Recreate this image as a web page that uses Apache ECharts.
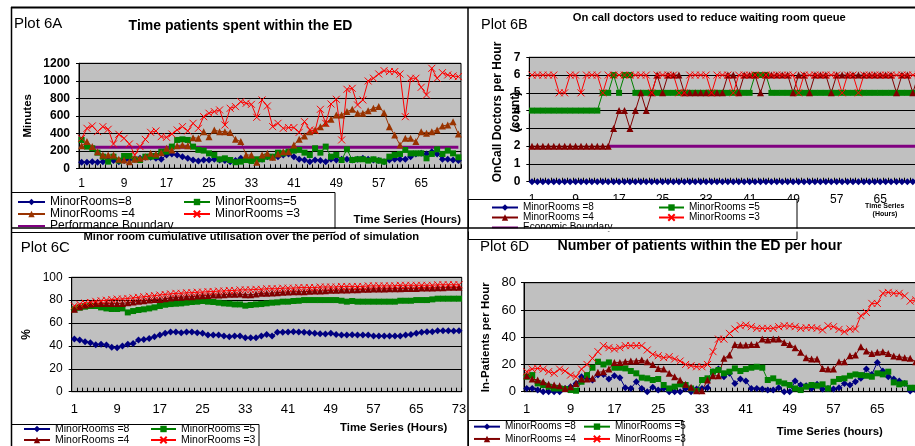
<!DOCTYPE html>
<html><head><meta charset="utf-8">
<script src="https://cdn.jsdelivr.net/npm/echarts@6/dist/echarts.min.js"></script>
<style>html,body{margin:0;padding:0;background:#fff}#c{width:915px;height:446px}</style>
</head><body><div id="c"></div><script>
// ---------- DATA ----------
const hours72 = [1,2,3,4,5,6,7,8,9,10,11,12,13,14,15,16,17,18,19,20,21,22,23,24,25,26,27,28,29,30,31,32,33,34,35,36,37,38,39,40,41,42,43,44,45,46,47,48,49,50,51,52,53,54,55,56,57,58,59,60,61,62,63,64,65,66,67,68,69,70,71,72];
const hours73 = [1,2,3,4,5,6,7,8,9,10,11,12,13,14,15,16,17,18,19,20,21,22,23,24,25,26,27,28,29,30,31,32,33,34,35,36,37,38,39,40,41,42,43,44,45,46,47,48,49,50,51,52,53,54,55,56,57,58,59,60,61,62,63,64,65,66,67,68,69,70,71,72,73];

// Plot 6A - minutes in ED
const a8 = [69,69,76,69,76,95,88,76,88,103,103,114,126,126,114,103,152,164,152,133,114,95,84,95,95,103,95,88,76,88,114,103,95,88,103,133,126,133,152,164,133,103,95,76,95,88,76,103,95,103,103,95,103,114,103,95,88,76,95,103,103,103,133,164,171,164,190,164,103,103,95,88];
const a5 = [324,248,229,179,133,76,133,88,141,141,103,95,133,133,141,190,190,248,324,331,324,248,210,202,171,152,103,114,95,69,76,95,84,103,103,133,133,179,171,190,202,210,179,152,229,179,248,133,152,95,217,95,103,103,88,103,88,76,133,152,164,210,171,171,171,114,164,217,164,202,171,126];
const a4 = [259,305,248,190,152,152,152,103,95,76,103,114,133,171,164,179,229,210,259,267,259,350,343,419,362,438,419,419,408,331,305,152,152,69,152,171,126,164,190,190,267,331,370,419,438,476,514,560,610,610,648,674,629,629,659,686,705,636,476,381,267,343,343,305,419,400,419,438,484,495,533,392];
const a3 = [343,457,484,419,476,446,278,389,343,278,152,248,331,411,427,362,354,392,438,476,427,514,457,590,629,648,667,495,686,705,762,743,731,583,781,712,476,514,457,465,465,411,533,438,430,674,514,735,789,324,903,914,724,781,998,1029,1078,1116,1105,1105,1078,590,1029,1029,926,838,1143,1029,1093,1067,1055,1048];
const aBoundary = [240,240,240,240,240,240,240,240,240,240,240,240,240,240,240,240,240,240,240,240,240,240,240,240,240,240,240,240,240,240,240,240,240,240,240,240,240,240,240,240,240,240,240,240,240,240,240,240,240,240,240,240,240,240,240,240,240,240,240,240,240,240,240,240,240,240,240,240,240,240,240,240];
const aTicks = [0,200,400,600,800,1000,1200];

// Plot 6B - on call doctors
const b8 = [0,0,0,0,0,0,0,0,0,0,0,0,0,0,0,0,0,0,0,0,0,0,0,0,0,0,0,0,0,0,0,0,0,0,0,0,0,0,0,0,0,0,0,0,0,0,0,0,0,0,0,0,0,0,0,0,0,0,0,0,0,0,0,0,0,0,0,0,0,0,0,0];
const b5 = [4,4,4,4,4,4,4,4,4,4, 4,4,4,5,5,6,5,6,6,5, 5,5,5,5,5,5,5,5,5,5, 5,5,5,5,5,5,5,5,5,5, 5,6,6,6,5,5,5,5,5,5, 5,5,5,5,5,5,5,5,5,5, 5,5,5,5,5,5,5,5,5,5, 5,5];
const b4 = [2,2,2,2,2,2,2,2,2,2, 2,2,2,2,2,3,4,4,3,4, 5,4,5,6,5,6,6,6,5,5, 5,5,5,5,5,5,6,6,5,6, 6,6,5,6,6,6,6,6,5,6, 6,5,6,6,6,5,6,6,6,6, 6,6,6,6,6,6,6,5,6,6, 5,6];
const b3 = [6,6,6,6,6,5,5,6,6,5, 6,6,6,5,6,6,6,6,6,6, 6,6,5,6,6,6,6,5,5,6, 6,6,6,5,6,6,6,5,6,6, 6,6,6,6,6,6,6,6,6,5, 6,6,6,6,6,6,6,5,6,6, 5,6,6,6,6,6,6,6,6,6, 6,6];
const bBoundary = [null,null,null,null,null,null,null,null,null,null,null,null,null,null,2,2,2,2,2,2,2,2,2,2,2,2,2,2,2,2,2,2,2,2,2,2,2,2,2,2,2,2,2,2,2,2,2,2,2,2,2,2,2,2,2,2,2,2,2,2,2,2,2,2,2,2,2,2,2,2,2,2];

// Plot 6C - cumulative utilisation %
const c8 = [46,45.2,43.7,42.8,41.1,41.4,40.8,38.8,38.5,39.9,41.4,42.2,45.2,45.7,46.6,48.1,49.5,51.0,52.2,52.2,51.6,52.2,52.2,51.6,51.0,49.5,49.5,49.5,48.7,48.1,48.7,48.7,47.2,47.2,47.2,48.7,50.1,48.7,51.9,51.9,52.2,52.4,52.2,51.9,51.6,51.0,50.7,50.4,51.0,50.1,49.5,49.5,49.8,49.5,49.5,49.5,48.7,48.7,48.7,48.7,48.7,48.7,49.5,50.1,51.0,51.9,52.4,52.4,53.3,53.3,53.3,53.0,53.3];
const c5 = [72,73.4,74.3,74.9,74.9,73.7,72.8,72.3,72.3,72.8,69.3,70.5,71.4,72.0,72.8,73.7,74.9,76.0,76.6,76.9,77.2,77.8,78.4,78.7,79.3,78.7,78.4,77.8,77.2,76.9,76.3,76.3,75.2,75.8,76.3,76.6,77.2,77.8,78.1,78.7,78.7,79.3,79.5,80.1,80.1,80.1,80.1,80.1,80.1,80.1,79.5,78.7,79.3,78.7,78.7,78.7,78.7,78.7,78.7,78.7,78.7,79.5,79.5,79.5,80.1,80.1,80.1,80.7,81.3,81.3,81.3,81.3,81.3];
const c4 = [72,74.3,75.8,76.6,77.2,77.2,77.2,77.2,77.2,77.2,77.8,78.4,79.0,79.5,80.1,80.7,80.7,81.3,81.9,82.5,82.5,83.0,83.0,83.6,83.9,84.2,84.5,84.5,84.8,85.1,85.1,85.4,84.8,84.8,85.4,86.0,86.0,86.3,86.6,86.9,87.2,87.4,87.4,87.4,87.7,88.0,88.0,88.3,88.6,88.6,88.9,88.9,89.2,89.2,89.5,89.5,89.8,89.8,89.8,90.0,90.0,90.0,90.3,90.3,90.3,90.6,90.6,90.6,90.9,90.9,91.2,91.2,91.2];
const c3 = [75,76.5,77.5,78,79,79.5,80,80.5,81,81,81.5,82,82.5,83,83.5,84,84.5,85,85.5,86,86,86.5,86.5,87,87,87.5,87.5,88,88,88.5,88.5,89,89,89,89.5,89.5,90,90,90,90.5,90.5,90.5,91,91,91,91,91.5,91.5,91.5,91.5,92,92,92,92,92,92.5,92.5,92.5,92.5,92.5,92.5,93,93,93,93,93,93,93,93.5,93.5,93.5,93.5,93.5];

// Plot 6D - patients in ED per hour
const d8 = [2.4,2.4,1.2,0,0,0,0,2.4,3.7,6.1,11,9.8,8.6,12.2,12.7,9.3,11.7,10.3,2.9,2.4,7.3,2.4,0,3.2,1.2,2.4,0,0,0,2.4,0,2,2.4,2.9,14.7,16.6,11,13.5,6.1,9.3,7.8,2.4,2.4,2,1.2,1.2,2.9,0,0,7.8,4.9,4.4,2.4,5.4,2,2.4,2,2.9,6.1,4.9,7.3,9.8,16.6,12.7,21.5,15.2,11,9.3,7.8,6.1,0.5,1.2];
const d5 = [11,12.2,6.1,4.9,3.7,2.4,2.4,2,1.2,0.7,7.3,12.2,17.6,22,20,21.5,17.6,17.6,17.1,15.2,13.5,10.3,9.8,8.6,9.3,4.9,2.4,3.7,5.4,4.9,2.4,0.5,8.6,9.8,14.7,15.9,13.5,14.7,17.1,15.2,16.6,17.6,18.3,17.6,8.6,9.8,7.3,6.1,4.9,2.4,1.2,3.7,4.9,4.4,5.4,2.4,7.3,9.3,9.8,11.7,12.7,12.2,11.7,11,13.5,12.7,14.7,6.8,5.4,6.1,2.9,2.9];
const d4 = [11.7,9.3,8.6,7.3,5.4,4.9,4.4,2.4,3.7,6.1,9.3,9.3,9.8,14.2,14.7,16.6,21.5,21.5,22,22.5,22.5,23.2,22,20,17.1,16.6,13.5,11,8.6,5.4,3.2,0.7,0.7,8.6,11.7,11.7,24.5,26.9,34.7,34.2,34.2,34.7,34.7,38.6,37.9,38.6,38.6,36.2,34.7,32.3,28.9,25,24,24,17.1,16.6,16.6,22,22,26.4,26.9,33,29.8,28.1,28.9,29.4,28.1,26.2,25.7,25,24.5,22];
const d3 = [14.7,16.6,17.1,16.6,14.7,13.5,16.6,15.2,12.2,11,16.6,20,24.5,29.4,33.8,32.3,31.3,32.3,33.8,33.8,33.8,33.8,30.6,27.4,26.4,25,25.7,24,22.5,20,19.1,18.3,18.3,20,29.4,38.6,38.6,42.8,46,48.4,48.9,47.7,46.5,46.5,46.5,46.5,47.7,48.4,48.2,47.7,46.5,47,47,46.5,45.3,48.4,47.7,45.7,44,46,46,55.8,58.2,64.8,64.8,72.2,72.9,72.2,72.2,70.4,66.5,67.3];

const legendText = {
  a8:'MinorRooms=8', a5:'MinorRooms=5', a4:'MinorRooms =4', a3:'MinorRooms =3', apb:'Performance Boundary',
  b8:'MinorRooms =8', b5:'MinorRooms =5', b4:'MinorRooms =4', b3:'MinorRooms =3', bpb:'Economic Boundary',
  c8:'MinorRooms =8', c5:'MinorRooms =5', c4:'MinorRooms =4', c3:'MinorRooms =3',
  d8:'MinorRooms =8', d5:'MinorRooms =5', d4:'MinorRooms =4', d3:'MinorRooms =3'
};

// ---------- STYLE ----------
const FONT = '"Liberation Sans", Arial, Helvetica, sans-serif';
const NAVY='#000080', GREEN='#008000', MAROON='#800000', BROWN='#993300', RED='#FF0000', PURPLE='#800080';
const XSYM = 'path://M0,0L10,10M10,0L0,10';

function gridBox(left, top, width, height){
  return {left, top, width, height, show:true, backgroundColor:'#C0C0C0', borderColor:'#000', borderWidth:1, containLabel:false, outerBoundsMode:'none'};
}
function xCat(gridIndex, data, fontSize, margin){
  return {type:'category', gridIndex, data, boundaryGap:true,
    axisLine:{show:true, onZero:false, lineStyle:{color:'#000', width:1}},
    axisTick:{show:true, inside:true, length:4, interval:0, alignWithLabel:false, lineStyle:{color:'#000', width:1}},
    axisLabel:{show:true, interval:7, color:'#000', fontFamily:FONT, fontSize, margin},
    splitLine:{show:false}};
}
function yVal(gridIndex, max, interval, fontSize, fontWeight, margin, name, nameGap, nameSize){
  return {type:'value', gridIndex, min:0, max, interval,
    axisLine:{show:true, lineStyle:{color:'#000', width:1}},
    axisTick:{show:true, inside:false, length:3, lineStyle:{color:'#000'}},
    axisLabel:{show:true, color:'#000', fontFamily:FONT, fontSize, fontWeight, margin, formatter: v => String(v)},
    splitLine:{show:true, lineStyle:{color:'#000', width:1}},
    name: name || '', nameLocation:'middle', nameGap: nameGap || 0, nameRotate:90,
    nameTextStyle:{color:'#000', fontFamily:FONT, fontSize:nameSize || 12, fontWeight:'bold'}};
}
function line(name, data, ax, symbol, color, size, extra){
  return Object.assign({
    name, type:'line', data, xAxisIndex:ax, yAxisIndex:ax,
    symbol, symbolSize:size, showSymbol:true, showAllSymbol:true,
    clip:false, animation:false, silent:true, connectNulls:false,
    lineStyle:{color, width:1}, itemStyle:{color}, emphasis:{disabled:true}
  }, extra || {});
}
function crossLine(name, data, ax, size){
  return line(name, data, ax, XSYM, RED, size, {itemStyle:{color:RED, borderColor:RED, borderWidth:1}});
}
function boundary(name, data, ax){
  return line(name, data, ax, 'circle', PURPLE, 4, {showSymbol:false, lineStyle:{color:PURPLE, width:3}, itemStyle:{color:PURPLE, opacity:0}});
}
function leg(names, left, top, fontSize, lineHeight, itemWidth){
  return {show:true, orient:'vertical', left, top, padding:0, itemGap:0, itemWidth, itemHeight:8,
    data:names, selectedMode:false, z:6, backgroundColor:'transparent', borderWidth:0,
    formatter: n => legendText[n],
    textStyle:{fontFamily:FONT, fontSize, color:'#000', lineHeight}};
}
function txt(text, x, y, size, weight, align, extra){
  return Object.assign({type:'text', x, y, z:9, silent:true,
    style:{text, fill:'#000', fontSize:size, fontWeight:weight, fontFamily:FONT,
      align, verticalAlign:'middle', textAlign:align, textVerticalAlign:'middle'}}, extra || {});
}
function hline(x1, x2, y, w){ return {type:'line', z:8, silent:true, shape:{x1, y1:y, x2, y2:y}, style:{stroke:'#000', lineWidth:w}}; }
function vline(x, y1, y2, w){ return {type:'line', z:8, silent:true, shape:{x1:x, y1, x2:x, y2}, style:{stroke:'#000', lineWidth:w}}; }
function box(x, y, w, h){ return {type:'rect', z:5, silent:true, shape:{x, y, width:w, height:h}, style:{fill:'#fff', stroke:'#000', lineWidth:1}}; }

const option = {
  backgroundColor:'#fff',
  animation:false,
  grid:[
    gridBox(79, 63.3, 382, 105),
    gridBox(529.3, 57.3, 391.7, 124.4),
    gridBox(71.7, 277.3, 390, 114.4),
    gridBox(524, 282.7, 394.4, 109)
  ],
  xAxis:[
    xCat(0, hours72, 12, 9),
    xCat(1, hours72, 12, 12),
    xCat(2, hours73, 13, 11),
    xCat(3, hours72, 13, 11)
  ],
  yAxis:[
    yVal(0, aTicks[aTicks.length-1], 200, 12, 'bold', 9, 'Minutes', 45, 11.5),
    yVal(1, 7, 1, 12, 'bold', 9, '', 0, 12),
    yVal(2, 100, 20, 12, 'normal', 9, '%', 39, 12),
    yVal(3, 80, 20, 13, 'normal', 8, 'In-Patients per Hour', 32, 11.5)
  ],
  legend:[
    leg(['a8','a4','apb'], 17, 196, 12, 10, 27),
    leg(['a5','a3'], 183, 196, 12, 10, 26),
    leg(['b8','b4','bpb'], 491, 202.5, 10, 9.2, 26),
    leg(['b5','b3'], 658, 202.5, 10, 9.2, 25),
    leg(['c8','c4'], 23, 423.5, 10.5, 11, 26),
    leg(['c5','c3'], 150, 423.5, 10.5, 11, 25),
    leg(['d8','d4'], 473, 420.5, 10, 12.3, 26),
    leg(['d5','d3'], 583, 420.5, 10, 12.3, 26)
  ],
  series:[
    line('a8', a8, 0, 'diamond', NAVY, 7),
    line('a5', a5, 0, 'rect', GREEN, 6),
    line('a4', a4, 0, 'triangle', BROWN, 7),
    crossLine('a3', a3, 0, 7),
    boundary('apb', aBoundary, 0),

    boundary('bpb', bBoundary, 1),
    line('b8', b8, 1, 'diamond', NAVY, 7),
    line('b5', b5, 1, 'rect', GREEN, 6),
    line('b4', b4, 1, 'triangle', MAROON, 7),
    crossLine('b3', b3, 1, 7),

    line('c8', c8, 2, 'diamond', NAVY, 7),
    line('c5', c5, 2, 'rect', GREEN, 6),
    line('c4', c4, 2, 'triangle', MAROON, 7),
    crossLine('c3', c3, 2, 7),

    line('d8', d8, 3, 'diamond', NAVY, 7),
    line('d5', d5, 3, 'rect', GREEN, 6),
    line('d4', d4, 3, 'triangle', MAROON, 7),
    crossLine('d3', d3, 3, 7)
  ],
  graphic:{elements:[
    // legend boxes
    box(11.5, 192.5, 323.5, 40),
    box(468.5, 199.5, 328.5, 40),
    box(11.5, 424.5, 247.5, 30),
    box(468.5, 420.5, 214.5, 30),
    // clip strip under top panels
    {type:'rect', z:7, silent:true, shape:{x:12, y:228.5, width:903, height:3}, style:{fill:'#fff'}},
    // frame
    hline(11, 915, 7.5, 2),
    vline(11.5, 7, 446, 1.5),
    vline(468, 7, 446, 1.5),
    hline(11, 915, 228, 1.5),
    // panel labels and titles
    txt('Plot 6A', 14, 24.2, 15, 'normal', 'left'),
    txt('Time patients spent within the ED', 240.5, 26, 14, 'bold', 'center'),
    txt('Plot 6B', 481, 24.7, 14.5, 'normal', 'left'),
    txt('On call doctors used to reduce waiting room queue', 709.3, 18, 11.2, 'bold', 'center'),
    txt('Plot 6C', 20.7, 247.5, 15, 'normal', 'left'),
    txt('Minor room cumulative utilisation over the period of simulation', 251.3, 237.3, 11.2, 'bold', 'center'),
    txt('Plot 6D', 480, 247, 15, 'normal', 'left'),
    txt('Number of patients within the ED per hour', 699.7, 246, 14.2, 'bold', 'center'),
    // x-axis titles
    txt('Time Series (Hours)', 461, 219.5, 11.4, 'bold', 'right'),
    txt('Time Series', 884.7, 206.2, 7, 'bold', 'center'),
    txt('(Hours)', 885, 214.3, 7, 'bold', 'center'),
    txt('Time Series (Hours)', 340, 428, 11.4, 'bold', 'left'),
    txt('Time Series (hours)', 776.7, 432, 11.4, 'bold', 'left'),
    // 6B y title
    txt('OnCall Doctors per Hour\n(count)', 507, 112, 12, 'bold', 'center', {rotation: Math.PI/2, style:{text:'OnCall Doctors per Hour\n(count)', fill:'#000', fontSize:12, fontWeight:'bold', fontFamily:FONT, align:'center', verticalAlign:'middle', textAlign:'center', textVerticalAlign:'middle', lineHeight:18}})
  ]}
};

const chart = echarts.init(document.getElementById('c'), null, {renderer:'canvas', width:915, height:446});
chart.setOption(option);
</script></body></html>
